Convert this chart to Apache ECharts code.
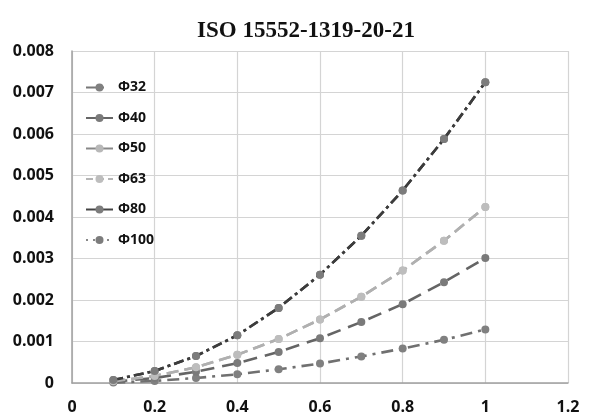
<!DOCTYPE html>
<html><head><meta charset="utf-8">
<script src="https://cdn.jsdelivr.net/npm/echarts@6/dist/echarts.min.js"></script>
<style>html,body{margin:0;padding:0;background:#fff}#c{width:612px;height:418px}</style>
</head><body><div id="c"></div>
<script>
const xValues = [0.1,0.2,0.3,0.4,0.5,0.6,0.7,0.8,0.9,1.0];
const phi32 = [0.00001,0.00005,0.00012,0.00021,0.00033,0.00047,0.00064,0.00083,0.00104,0.00129];
const phi40 = [0.00003,0.00012,0.00027,0.00048,0.00075,0.00108,0.00147,0.0019,0.00243,0.00301];
const phi50 = [0.00004,0.00017,0.00038,0.00068,0.00106,0.00153,0.00208,0.00271,0.00343,0.00424];
const phi63 = [0.00004,0.00017,0.00038,0.00068,0.00106,0.00153,0.00208,0.00271,0.00343,0.00424];
const phi80 = [0.00007,0.00029,0.00065,0.00115,0.00181,0.00261,0.00355,0.00464,0.00588,0.00725];
const phi100 = [0.00007,0.00029,0.00065,0.00115,0.00181,0.00261,0.00355,0.00464,0.00588,0.00725];
const yTicks = [0,0.001,0.002,0.003,0.004,0.005,0.006,0.007,0.008];
const xTicks = [0,0.2,0.4,0.6,0.8,1,1.2];

const pts = a => xValues.map((x,i)=>[x,a[i]]);
function ser(name,data,lineColor,markColor,dash,z){
  return {name,type:'line',data:pts(data),symbol:'circle',symbolSize:8,z,
    lineStyle:{color:lineColor,width:2.6,type:dash},
    itemStyle:{color:markColor},emphasis:{disabled:true}};
}
const chart = echarts.init(document.getElementById('c'),null,{renderer:'canvas'});
chart.setOption({
  animation:false,
  title:{text:'ISO 15552-1319-20-21',left:'center',top:15,
    textStyle:{fontFamily:'Liberation Serif',fontWeight:'bold',fontSize:23,color:'#111'}},
  grid:{left:72,right:44,top:51,bottom:35},
  legend:{orient:'vertical',left:80,top:73,itemGap:11.5,itemWidth:27,itemHeight:10,
    textStyle:{fontFamily:'Open Sans',fontWeight:'bold',fontSize:14,lineHeight:19,color:'#111'},
    data:[
      {name:'Φ32',lineStyle:{color:'#777',type:[12,4,2,20]}},
      {name:'Φ40',lineStyle:{color:'#666',type:[12,5]}},
      {name:'Φ50',lineStyle:{color:'#888',type:'solid'}},
      {name:'Φ63',lineStyle:{color:'#b5b5b5',type:[7,4]}},
      {name:'Φ80',lineStyle:{color:'#444',type:'solid'}},
      {name:'Φ100',lineStyle:{color:'#888',type:[2,5]}}
    ]},
  xAxis:{type:'value',min:0,max:1.2,interval:0.2,
    axisLine:{show:true,onZero:true,lineStyle:{color:'#a0a0a0',width:1.5}},axisTick:{show:false},
    splitLine:{show:true,lineStyle:{color:'#d4d4d4',width:1.2}},
    axisLabel:{margin:16,fontFamily:'Open Sans',fontWeight:'bold',fontSize:16,color:'#111',
      formatter:v=>String(Math.round(v*10)/10)}},
  yAxis:{type:'value',min:0,max:0.008,interval:0.001,
    axisLine:{show:true,lineStyle:{color:'#a0a0a0',width:1.5}},axisTick:{show:false},
    splitLine:{show:true,lineStyle:{color:'#d4d4d4',width:1.2}},
    axisLabel:{margin:18,fontFamily:'Open Sans',fontWeight:'bold',fontSize:16,color:'#111',
      formatter:v=>v===0?'0':v.toFixed(3)}},
  series:[
    ser('Φ32',phi32,'#707070','#808080',[12,6,3,6],3),
    ser('Φ40',phi40,'#656565','#7a7a7a',[14,8],3),
    ser('Φ50',phi50,'#b0b0b0','#b8b8b8',[12,6],2),
    ser('Φ63',phi63,'#b0b0b0','#bdbdbd',[12,6],3),
    ser('Φ80',phi80,'#3c3c3c','#7c7c7c',[10,4,3,4],3),
    ser('Φ100',phi100,'#3c3c3c','#7c7c7c',[10,4,3,4],2)
  ]
});
</script></body></html>
